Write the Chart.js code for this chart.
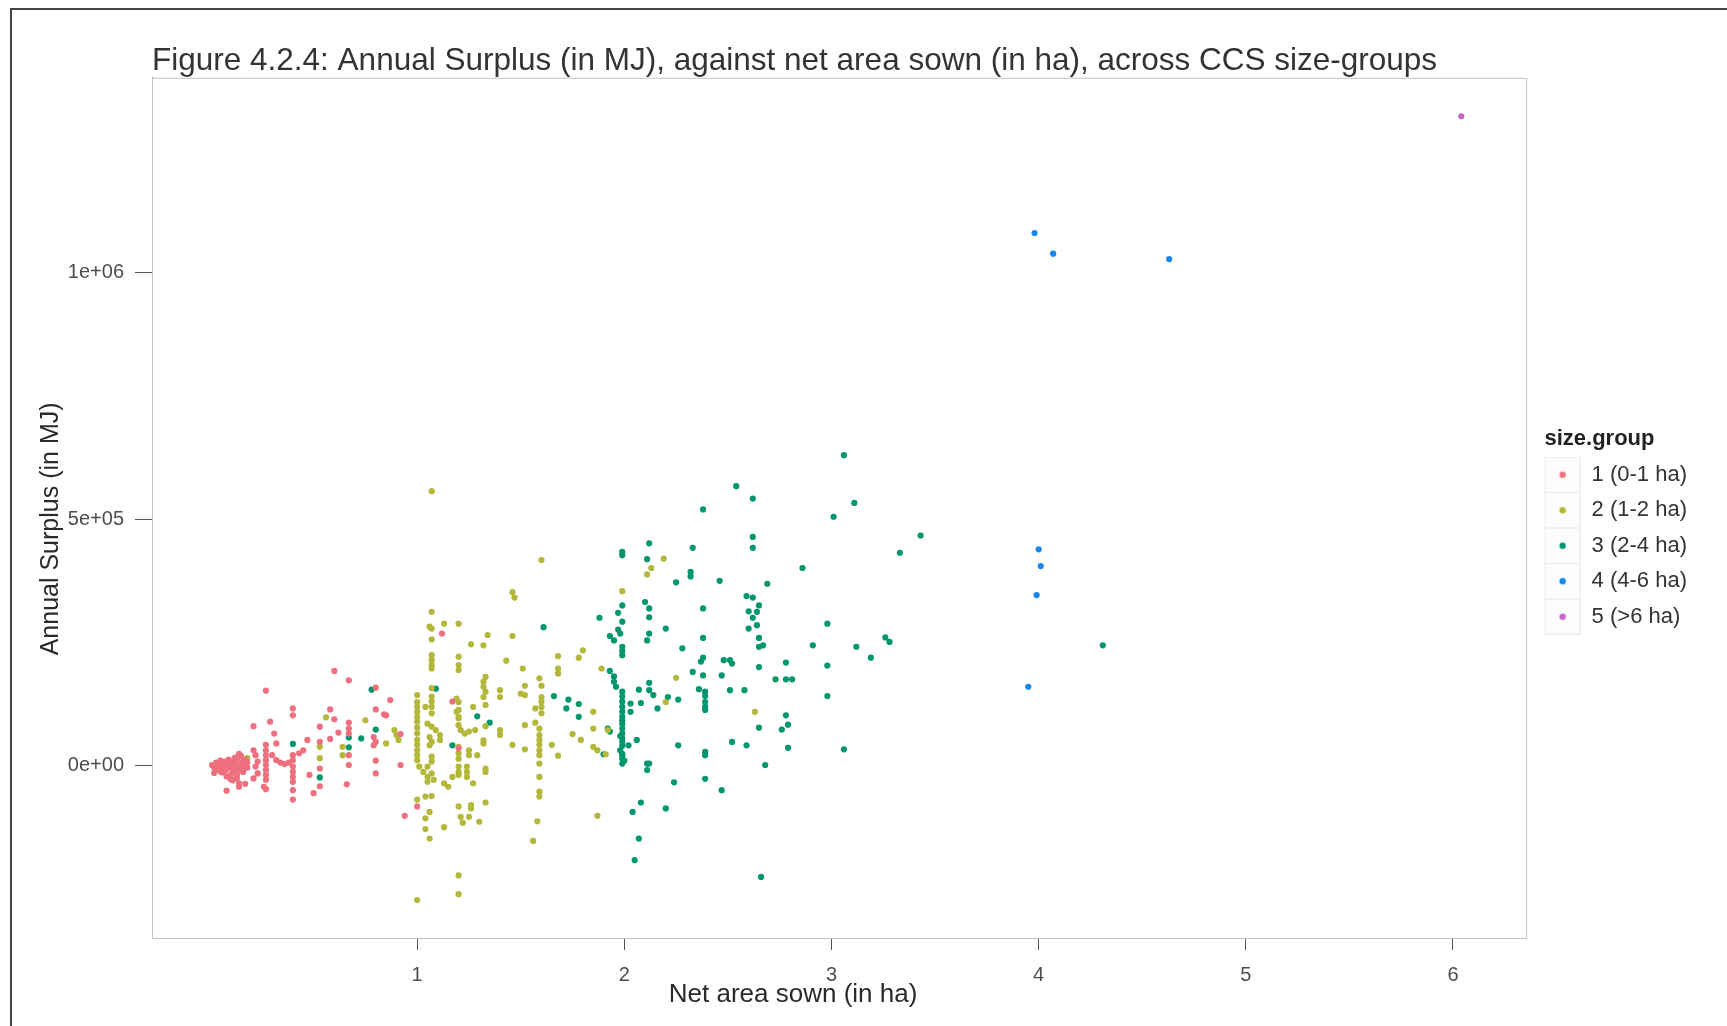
<!DOCTYPE html>
<html lang="en">
<head>
<meta charset="UTF-8">
<title>Figure 4.2.4: Annual Surplus against net area sown</title>
<script src="https://cdn.jsdelivr.net/npm/chart.js"></script>
<style>
    html, body { margin: 0; padding: 0; background: #fff; }
    body { width: 1727px; height: 1026px; position: relative; overflow: hidden; }
    .frame {
        position: absolute; left: 10px; top: 8px; right: 0; bottom: 0;
        border-left: 2px solid #444; border-top: 2px solid #444;
    }
    .wrap { position: absolute; left: 0; top: 0; width: 1727px; height: 1026px; }
</style>
</head>
<body>
<div class="frame"></div>
<div class="wrap"><canvas id="chart"></canvas></div>
<script>
// size groups and their colours
const sizeGroups = ['1 (0-1 ha)', '2 (1-2 ha)', '3 (2-4 ha)', '4 (4-6 ha)', '5 (>6 ha)'];
const groupColors = ['#ee707f', '#b3b83a', '#00976f', '#1787ec', '#c964c9'];

// axis ticks and titles
const xTicks = [1, 2, 3, 4, 5, 6];
const yTicks = [0, 5e5, 1e6];
const yTickLabels = ['0e+00', '5e+05', '1e+06'];
const xTitle = 'Net area sown (in ha)';
const yTitle = 'Annual Surplus (in MJ)';

// [net area sown (ha), annual surplus (MJ)]
const group1 = [
    [0.01,1e3],[0.02,-15e3],[0.03,-5e3],[0.04,-8e3],[0.04,4e3],[0.05,-2e3],[0.06,3e3],[0.06,-14e3],[0.07,-11e3],[0.07,8e3],
    [0.08,6e3],[0.08,-22e3],[0.09,-3e3],[0.09,12e3],[0.10,-19e3],[0.10,9e3],[0.11,4e3],[0.11,-30e3],[0.12,-8e3],[0.12,0],
    [0.12,16e3],[0.13,12e3],[0.13,-18e3],[0.14,-5e3],[0.14,24e3],[0.15,19e3],[0.15,-10e3],[0.16,-13e3],[0.16,8e3],[0.17,3e3],
    [0.18,-4e3],[0.08,-51e3],[0.14,-43e3],[0.14,-36e3],[0.17,-37e3],
    [0.02,-4e3],[0.03,6e3],[0.05,-12e3],[0.05,10e3],[0.06,-6e3],[0.07,0],[0.08,-8e3],[0.09,4e3],[0.10,-4e3],[0.11,-12e3],
    [0.12,8e3],[0.13,-2e3],[0.15,3e3],[0.16,-2e3],[0.17,12e3],[0.18,6e3],[0.13,-25e3],[0.10,-28e3],
    [0.21,80e3],[0.21,31e3],[0.22,21e3],[0.23,8e3],[0.22,-2e3],[0.23,-16e3],[0.21,-26e3],
    [0.27,152e3],[0.27,42e3],[0.27,31e3],[0.27,21e3],[0.27,11e3],[0.27,1e3],[0.27,-9e3],[0.27,-19e3],[0.27,-29e3],[0.26,-43e3],[0.27,-48e3],
    [0.29,89e3],[0.31,65e3],[0.32,45e3],[0.30,21e3],[0.32,11e3],[0.34,6e3],[0.36,3e3],[0.38,6e3],
    [0.40,116e3],[0.40,102e3],[0.40,21e3],[0.40,11e3],[0.40,-2e3],[0.40,-13e3],[0.40,-23e3],[0.40,-33e3],[0.40,-50e3],[0.40,-69e3],
    [0.43,25e3],[0.45,31e3],[0.47,52e3],[0.48,-19e3],[0.50,-56e3],
    [0.53,79e3],[0.53,48e3],[0.53,-6e3],[0.53,-42e3],
    [0.58,114e3],[0.60,94e3],[0.58,54e3],[0.62,67e3],[0.60,192e3],[0.67,173e3],
    [0.67,87e3],[0.67,75e3],[0.67,65e3],[0.67,21e3],[0.67,1e3],[0.66,-38e3],
    [0.80,158e3],[0.80,114e3],[0.79,58e3],[0.80,48e3],[0.79,41e3],[0.80,10e3],[0.80,-16e3],
    [0.84,104e3],[0.85,102e3],[0.87,133e3],[0.92,64e3],[0.92,1e3],[0.94,-102e3],[1.00,-83e3],
    [1.12,268e3],[1.17,130e3],[1.20,35e3]
];
const group2 = [
    [0.18,15e3],[0.56,98e3],[0.53,38e3],[0.53,15e3],[0.64,38e3],[0.64,21e3],[0.75,92e3],
    [0.85,45e3],[0.89,72e3],[0.90,62e3],[0.91,52e3],[1.00,-69e3],
    [1.07,557e3],[1.07,312e3],[1.06,282e3],[1.07,278e3],[1.07,256e3],[1.07,224e3],[1.07,214e3],[1.07,204e3],[1.07,197e3],
    [1.07,157e3],[1.07,140e3],[1.07,130e3],[1.07,119e3],[1.07,106e3],
    [1.00,143e3],[1.00,129e3],[1.00,119e3],[1.00,109e3],[1.00,99e3],[1.04,119e3],
    [1.13,288e3],[1.20,288e3],[1.20,221e3],[1.20,204e3],[1.20,194e3],[1.19,136e3],[1.20,129e3],[1.20,113e3],[1.20,99e3],
    [1.26,246e3],[1.32,244e3],[1.34,265e3],[1.33,180e3],[1.32,170e3],[1.32,160e3],[1.33,150e3],[1.32,139e3],[1.33,123e3],[1.27,119e3],
    [1.40,153e3],[1.40,139e3],[1.46,352e3],[1.47,341e3],[1.46,263e3],[1.43,213e3],[1.51,197e3],[1.52,162e3],[1.50,146e3],[1.52,143e3],
    [1.60,417e3],[1.59,177e3],[1.60,162e3],[1.60,139e3],[1.60,130e3],[1.60,119e3],[1.60,106e3],[1.57,116e3],
    [1.68,222e3],[1.68,197e3],[1.68,187e3],[1.78,219e3],[1.80,234e3],[1.89,197e3],[1.85,109e3],[1.99,354e3],
    [2.11,388e3],[2.13,401e3],[2.19,420e3],[2.25,178e3],[2.20,129e3],[2.63,109e3],
    [1.00,89e3],[1.00,77e3],[1.00,65e3],[1.00,52e3],[1.00,42e3],[1.00,31e3],[1.00,21e3],[1.00,11e3],[1.01,-2e3],[1.03,-13e3],[1.05,-23e3],[1.05,-33e3],
    [1.05,85e3],[1.07,79e3],[1.09,72e3],[1.06,58e3],[1.07,48e3],[1.06,41e3],[1.07,18e3],[1.07,8e3],[1.05,-2e3],[1.07,-16e3],[1.08,-29e3],[1.11,62e3],[1.11,52e3],
    [1.04,-63e3],[1.07,-62e3],[1.06,-94e3],[1.04,-107e3],[1.04,-129e3],[1.06,-148e3],[1.00,-273e3],
    [1.19,109e3],[1.20,96e3],[1.20,82e3],[1.21,72e3],[1.23,65e3],[1.25,69e3],[1.28,72e3],
    [1.20,38e3],[1.20,25e3],[1.20,14e3],[1.25,31e3],[1.25,21e3],[1.20,-2e3],[1.20,-13e3],[1.20,-19e3],[1.24,-2e3],[1.24,-13e3],[1.24,-23e3],
    [1.29,21e3],[1.27,-36e3],[1.17,-23e3],[1.13,-36e3],[1.15,-43e3],
    [1.20,-83e3],[1.21,-104e3],[1.22,-116e3],[1.26,-80e3],[1.26,-87e3],[1.25,-104e3],[1.30,-114e3],[1.33,-75e3],[1.13,-125e3],[1.20,-223e3],[1.20,-261e3],
    [1.32,51e3],[1.32,45e3],[1.33,-6e3],[1.33,-13e3],[1.33,80e3],[1.40,72e3],[1.40,62e3],[1.46,42e3],[1.52,33e3],[1.52,82e3],
    [1.59,75e3],[1.59,62e3],[1.59,52e3],[1.59,42e3],[1.59,31e3],[1.59,21e3],[1.59,4e3],[1.59,-23e3],[1.59,-53e3],[1.59,-63e3],[1.58,-113e3],[1.56,-153e3],[1.57,87e3],
    [1.65,42e3],[1.68,20e3],[1.75,64e3],[1.79,52e3],[1.85,75e3],[1.85,38e3],[1.87,31e3],[1.87,-102e3],[1.91,23e3],[1.92,72e3]
];
const group3 = [
    [0.40,44e3],[0.53,-24e3],[0.67,57e3],[0.67,37e3],[0.73,55e3],[0.78,154e3],[0.80,73e3],[1.09,156e3],[1.29,100e3],[1.35,87e3],[1.17,41e3],
    [1.61,281e3],[1.66,141e3],[1.73,134e3],[1.78,125e3],[1.78,99e3],[1.72,116e3],
    [2.12,451e3],[2.11,419e3],[2.25,372e3],[1.99,434e3],[1.99,427e3],[1.88,300e3],[2.20,278e3],
    [1.99,325e3],[1.97,310e3],[1.99,292e3],[1.97,276e3],[1.98,268e3],[1.93,263e3],[1.95,254e3],[1.99,241e3],[1.99,233e3],[1.99,224e3],
    [2.10,332e3],[2.12,319e3],[2.12,301e3],[2.12,268e3],[2.11,254e3],
    [1.93,192e3],[1.95,181e3],[1.95,170e3],[1.96,160e3],
    [1.99,150e3],[1.99,140e3],[1.99,130e3],[1.99,119e3],[1.99,109e3],[1.99,99e3],[1.99,92e3],[1.98,60e3],[1.99,40e3],[1.99,14e3],[2.00,10e3],
    [2.12,168e3],[2.12,153e3],[2.14,143e3],[2.07,154e3],[2.08,127e3],[2.16,116e3],[2.21,139e3],[2.26,134e3],[2.03,126e3],[2.03,109e3],[2.28,238e3],
    [1.92,75e3],[1.93,69e3],[1.90,23e3],[1.98,31e3],[1.99,24e3],[1.99,21e3],[2.02,41e3],[1.99,4e3],[2.04,-94e3],[2.07,-148e3],[2.05,-192e3],
    [1.99,85e3],[1.99,75e3],[1.99,65e3],[1.99,55e3],[1.99,48e3],[2.06,52e3],
    [2.12,4e3],[2.11,4e3],[2.11,-9e3],[2.26,41e3],[2.24,-34e3],[2.39,28e3],[2.39,21e3],[2.39,-27e3],[2.47,-50e3],[2.52,48e3],[2.59,41e3],
    [2.65,77e3],[2.76,73e3],[2.79,83e3],[2.79,36e3],[2.68,1e3],[3.06,33e3],[2.08,-75e3],[2.20,-87e3],[2.66,-226e3],
    [3.06,630e3],[2.54,567e3],[2.62,542e3],[2.38,520e3],[3.01,505e3],[3.11,533e3],[2.62,464e3],[2.62,442e3],[2.33,442e3],[3.33,432e3],
    [2.86,401e3],[2.32,393e3],[2.32,384e3],[2.46,375e3],[2.69,369e3],
    [2.59,344e3],[2.62,341e3],[2.65,325e3],[2.60,313e3],[2.64,312e3],[2.62,300e3],[2.64,285e3],[2.60,278e3],[2.65,259e3],[2.65,241e3],[2.67,244e3],
    [2.38,319e3],[2.38,259e3],[2.38,219e3],[2.37,211e3],[2.48,214e3],[2.51,214e3],[2.52,207e3],[2.33,190e3],[2.38,183e3],[2.47,183e3],
    [2.65,200e3],[2.73,175e3],[2.78,209e3],[2.78,175e3],[2.81,175e3],[2.91,244e3],[2.98,288e3],[2.98,203e3],[2.98,141e3],
    [3.12,241e3],[3.19,219e3],[3.26,260e3],[3.28,251e3],[2.51,153e3],[2.58,153e3],[2.36,155e3],[2.39,150e3],[2.39,141e3],
    [2.39,129e3],[2.39,119e3],[2.39,113e3],[2.78,102e3],
    [3.43,467e3],[4.31,244e3]
];
const group4 = [[3.98,1081e3],[4.07,1039e3],[4.63,1028e3],[4.00,439e3],[4.01,405e3],[3.99,346e3],[3.95,160e3]];
const group5 = [[6.04,1318e3]];

const groups = [group1, group2, group3, group4, group5];

Chart.defaults.font.family = "'Liberation Sans', Arial, sans-serif";

// ggplot-like legend key: faint square with a small dot, a little gap on its left
function legendKey(color) {
    const c = document.createElement('canvas');
    c.width = 41; c.height = 36;
    const g = c.getContext('2d');
    g.fillStyle = '#fdfdfd';
    g.fillRect(5, 0, 36, 36);
    g.strokeStyle = '#ececec';
    g.strokeRect(5.5, 0.5, 35, 35);
    g.fillStyle = color;
    g.beginPath();
    g.arc(23, 18, 3.2, 0, Math.PI * 2);
    g.fill();
    return c;
}
const legendKeys = groupColors.map(legendKey);

// thin grey box round the panel
const panelBorder = {
    id: 'panelBorder',
    beforeDatasetsDraw(chart) {
        const { ctx, chartArea: a } = chart;
        ctx.save();
        ctx.strokeStyle = '#c4c4c4';
        ctx.lineWidth = 1;
        ctx.strokeRect(a.left + 0.5, a.top + 0.5, a.right - a.left, a.bottom - a.top);
        ctx.restore();
    }
};

// axis titles sit a little off-centre in the original scan
const axisTitles = {
    id: 'axisTitles',
    afterDraw(chart) {
        const { ctx, chartArea: a } = chart;
        ctx.save();
        ctx.fillStyle = '#2a2a2a';
        ctx.textAlign = 'center';
        ctx.textBaseline = 'middle';
        ctx.font = "26px 'Liberation Sans', Arial, sans-serif";
        ctx.fillText(xTitle, (a.left + a.right) / 2 - 46, a.bottom + 57);
        ctx.font = "25px 'Liberation Sans', Arial, sans-serif";
        ctx.translate(a.left - 101, (a.top + a.bottom) / 2 + 21);
        ctx.rotate(-Math.PI / 2);
        ctx.fillText(yTitle, 0, 0);
        ctx.restore();
    }
};

new Chart(document.getElementById('chart'), {
    type: 'scatter',
    data: {
        datasets: groups.map((pts, i) => ({
            label: sizeGroups[i],
            data: pts.map(([x, y]) => ({ x, y })),
            backgroundColor: groupColors[i],
            borderWidth: 0,
            pointRadius: 3.1,
            pointHoverRadius: 3.1
        }))
    },
    options: {
        responsive: true,
        maintainAspectRatio: false,
        animation: false,
        layout: { padding: { left: 36, right: 30, top: 40, bottom: 16 } },
        scales: {
            x: {
                type: 'linear',
                min: -0.28,
                max: 6.353,
                afterBuildTicks: axis => { axis.ticks = xTicks.map(v => ({ value: v })); },
                afterFit: axis => { axis.height = 72; },
                ticks: { font: { size: 20 }, color: '#4d4d4d', padding: 13, callback: v => String(v) },
                grid: { drawOnChartArea: false, drawTicks: true, tickLength: 12, color: '#555' },
                border: { color: '#777', width: 1 },
                title: { display: false, text: xTitle }
            },
            y: {
                type: 'linear',
                min: -350e3,
                max: 1396e3,
                afterBuildTicks: axis => { axis.ticks = yTicks.map(v => ({ value: v })); },
                afterFit: axis => { axis.width = 116; },
                ticks: { font: { size: 20 }, color: '#4d4d4d', padding: 11, callback: v => yTickLabels[yTicks.indexOf(v)] },
                grid: { drawOnChartArea: false, drawTicks: true, tickLength: 17, color: '#555' },
                border: { color: '#777', width: 1 },
                title: { display: false, text: yTitle }
            }
        },
        plugins: {
            title: {
                display: true,
                text: 'Figure 4.2.4: Annual Surplus (in MJ), against net area sown (in ha), across CCS size-groups',
                align: 'start',
                fullSize: false,
                font: { size: 31.5, weight: 'normal' },
                color: '#333',
                padding: { top: 2, bottom: -2 }
            },
            legend: {
                position: 'right',
                align: 'center',
                title: {
                    display: true,
                    // leading spaces line the title up with the keys, as in ggplot
                    text: '   size.group',
                    position: 'start',
                    color: '#222',
                    font: { size: 22, weight: 'bold' },
                    padding: { top: 19, bottom: -4 }
                },
                labels: {
                    usePointStyle: true,
                    pointStyleWidth: 41,
                    padding: 13.5,
                    color: '#333',
                    font: { size: 22 },
                    generateLabels: () => sizeGroups.map((name, i) => ({
                        text: name,
                        pointStyle: legendKeys[i],
                        fillStyle: groupColors[i],
                        strokeStyle: groupColors[i],
                        lineWidth: 0,
                        fontColor: '#333',
                        hidden: false,
                        datasetIndex: i
                    }))
                }
            },
            tooltip: { enabled: false }
        }
    },
    plugins: [panelBorder, axisTitles]
});
</script>
</body>
</html>
